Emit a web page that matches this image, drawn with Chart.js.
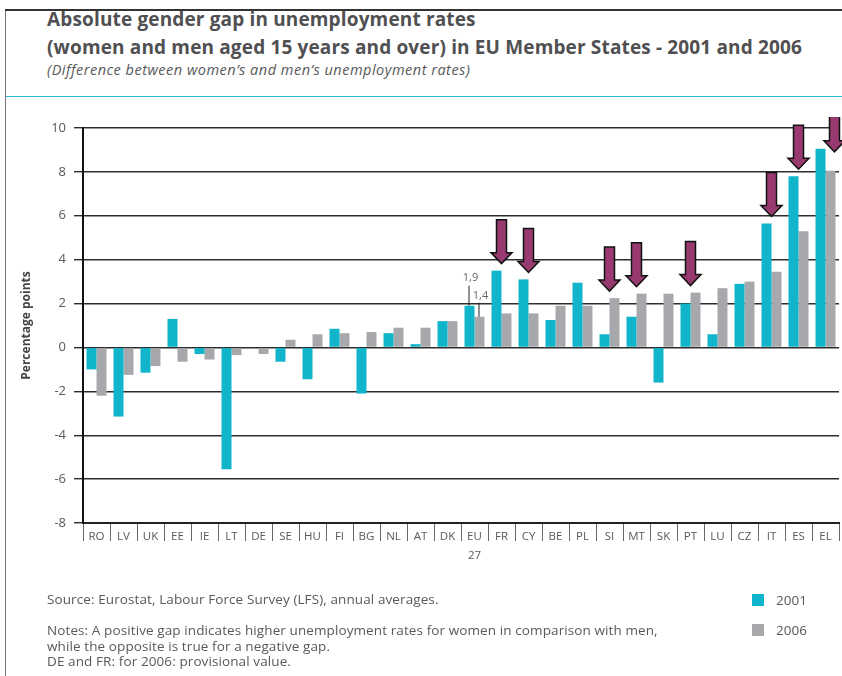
<!DOCTYPE html>
<html>
<head>
<meta charset="utf-8">
<script src="https://cdn.jsdelivr.net/npm/chart.js@4.4.0/dist/chart.umd.min.js"></script>
<style>
  body { margin: 0; width: 842px; height: 676px; overflow: hidden; background: #fff; position: relative; font-family: "Open Sans", sans-serif; color: #58595b; }
  .vline { position: absolute; left: 5px; top: 10px; width: 1px; height: 700px; background: #777; }
  .hline { position: absolute; left: 5px; top: 9px; width: 840px; height: 1.5px; background: #333; }
  .rule { position: absolute; left: 6px; top: 96px; width: 836px; height: 1px; background: #2ab7ce; }
  .title { position: absolute; left: 47px; top: 5px; font-weight: bold; font-size: 19px; letter-spacing: 0.15px; line-height: 28px; white-space: nowrap; color: #505052; }
  .sub { position: absolute; left: 47px; top: 60px; font-style: italic; font-size: 14.5px; letter-spacing: 0.5px; white-space: nowrap; }
  .foot { position: absolute; left: 47px; font-size: 13.5px; letter-spacing: 0.1px; line-height: 15.5px; white-space: nowrap; }
  .leg { position: absolute; left: 752px; font-size: 13.5px; white-space: nowrap; }
  .leg span { display: inline-block; width: 12px; height: 12px; margin-right: 12px; vertical-align: -1px; }
  #wrap { position: absolute; left: 0; top: 0; width: 842px; height: 676px; }
</style>
</head>
<body>
<div class="vline"></div>
<div class="hline"></div>
<div class="title">Absolute gender gap in unemployment rates<br>(women and men aged 15 years and over) in EU Member States - 2001 and 2006</div>
<div class="sub">(Difference between women’s and men’s unemployment rates)</div>
<div class="rule"></div>
<div id="wrap"><canvas id="myChart"></canvas></div>
<div class="foot" style="top:592px">Source: Eurostat, Labour Force Survey (LFS), annual averages.</div>
<div class="foot" style="top:623px">Notes: A positive gap indicates higher unemployment rates for women in comparison with men,<br>while the opposite is true for a negative gap.<br>DE and FR: for 2006: provisional value.</div>
<div class="leg" style="top:591px"><span style="background:#10b4cb"></span>2001</div>
<div class="leg" style="top:621px"><span style="background:#a6a8ab"></span>2006</div>
<script>
var countries = ["RO", "LV", "UK", "EE", "IE", "LT", "DE", "SE", "HU", "FI", "BG", "NL", "AT", "DK", ["EU", "27"],
  "FR", "CY", "BE", "PL", "SI", "MT", "SK", "PT", "LU", "CZ", "IT", "ES", "EL"];
var gap2001 = [-1.0, -3.15, -1.15, 1.3, -0.3, -5.55, 0, -0.65, -1.45, 0.85, -2.1, 0.65, 0.15, 1.2, 1.9,
  3.5, 3.1, 1.25, 2.95, 0.6, 1.4, -1.6, 2.0, 0.6, 2.9, 5.65, 7.8, 9.05];
var gap2006 = [-2.2, -1.25, -0.85, -0.65, -0.55, -0.35, -0.3, 0.35, 0.6, 0.65, 0.7, 0.9, 0.9, 1.2, 1.4,
  1.55, 1.55, 1.9, 1.9, 2.25, 2.45, 2.45, 2.5, 2.7, 3.0, 3.45, 5.3, 8.05];
var arrowAt = ["FR", "CY", "SI", "MT", "PT", "IT", "ES", "EL"];
var yTicks = [-8, -6, -4, -2, 0, 2, 4, 6, 8, 10];

function idxOf(code) {
  for (var i = 0; i < countries.length; i++) {
    var c = Array.isArray(countries[i]) ? countries[i][0] : countries[i];
    if (c === code) return i;
  }
  return -1;
}

// arrows pointing down at the countries where the gap went down
var arrowPlugin = {
  id: "arrows",
  afterDatasetsDraw: function (chart) {
    var ctx = chart.ctx;
    var area = chart.chartArea;
    var xs = chart.scales.x, ys = chart.scales.y;
    ctx.save();
    ctx.beginPath();
    ctx.rect(0, area.top - 11, chart.width, chart.height);
    ctx.clip();
    for (var k = 0; k < arrowAt.length; k++) {
      var i = idxOf(arrowAt[k]);
      var x = xs.getPixelForValue(i);
      var tip = ys.getPixelForValue(Math.max(gap2001[i], gap2006[i])) - 7;
      var len = 44;
      if (tip - len < area.top - 12) {
        // no room above: sit on the 2006 bar instead
        var bar = chart.getDatasetMeta(1).data[i];
        x = bar.x + 4;
        tip = bar.y - 19;
      }
      ctx.beginPath();
      ctx.moveTo(x - 5, tip - len);
      ctx.lineTo(x + 5, tip - len);
      ctx.lineTo(x + 5, tip - 11);
      ctx.lineTo(x + 10.5, tip - 11);
      ctx.lineTo(x, tip);
      ctx.lineTo(x - 10.5, tip - 11);
      ctx.lineTo(x - 5, tip - 11);
      ctx.closePath();
      ctx.fillStyle = "#983a6f";
      ctx.fill();
      ctx.lineWidth = 1.5;
      ctx.strokeStyle = "#111";
      ctx.stroke();
    }
    ctx.restore();

    // EU-27 value callouts
    var eu = idxOf("EU");
    var b1 = chart.getDatasetMeta(0).data[eu];
    var b2 = chart.getDatasetMeta(1).data[eu];
    ctx.save();
    ctx.strokeStyle = "#222";
    ctx.lineWidth = 1;
    ctx.fillStyle = "#666";
    ctx.font = "11px 'Open Sans'";
    ctx.textAlign = "center";
    ctx.textBaseline = "middle";
    ctx.beginPath();
    ctx.moveTo(b1.x - 0.5, b1.y);
    ctx.lineTo(b1.x - 0.5, b1.y - 20);
    ctx.moveTo(b2.x - 0.5, b2.y);
    ctx.lineTo(b2.x - 0.5, b2.y - 14);
    ctx.stroke();
    ctx.fillText(gap2001[eu].toFixed(1).replace(".", ","), b1.x + 1, b1.y - 28);
    ctx.fillText(gap2006[eu].toFixed(1).replace(".", ","), b2.x + 1, b2.y - 21);
    ctx.restore();
  }
};

var ctx = document.getElementById("myChart");
var myChart = new Chart(ctx, {
  type: "bar",
  data: {
    labels: countries,
    datasets: [
      { label: "2001", data: gap2001, backgroundColor: "#10b4cb", categoryPercentage: 0.74, barPercentage: 1.0 },
      { label: "2006", data: gap2006, backgroundColor: "#a6a8ab", categoryPercentage: 0.74, barPercentage: 1.0 }
    ]
  },
  options: {
    responsive: true,
    maintainAspectRatio: false,
    animation: false,
    layout: { padding: { top: 128, left: 0, right: 3, bottom: 113 } },
    plugins: { legend: { display: false }, tooltip: { enabled: false } },
    scales: {
      x: {
        grid: { drawOnChartArea: false, drawTicks: true, tickLength: 18, color: "#666", lineWidth: 1 },
        border: { display: true, color: "#222", width: 2 },
        ticks: { color: "#58595b", font: { family: "Open Sans", size: 11.5, lineHeight: 1.6 }, padding: -13, maxRotation: 0, autoSkip: false },
        afterFit: function (s) { s.height = 40; }
      },
      y: {
        min: -8,
        max: 10,
        afterBuildTicks: function (s) { s.ticks = yTicks.map(function (v) { return { value: v }; }); },
        ticks: { color: "#58595b", font: { family: "Open Sans", size: 13 }, padding: 8 },
        grid: { color: "#2e2e2e", lineWidth: 1.4, tickLength: 9 },
        border: { color: "#111", width: 2 },
        title: { display: true, text: "Percentage points", color: "#444", font: { family: "Open Sans", size: 12, weight: "bold" }, padding: { top: 19, bottom: 0 } },
        afterFit: function (s) { s.width = 83; }
      }
    }
  },
  plugins: [arrowPlugin]
});
</script>
</body>
</html>
